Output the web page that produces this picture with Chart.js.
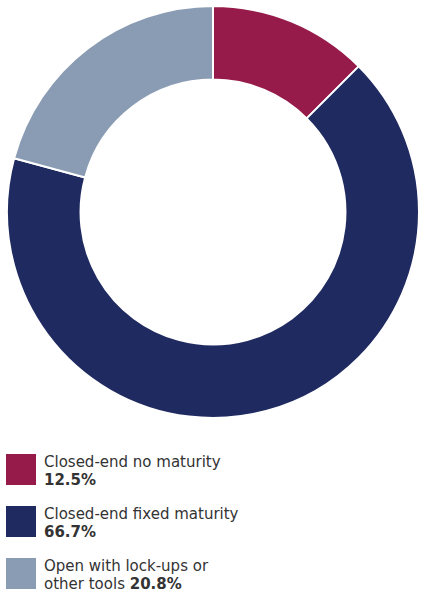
<!DOCTYPE html>
<html>
<head>
<meta charset="utf-8">
<script src="https://cdn.jsdelivr.net/npm/chart.js@4"></script>
<style>
  body { margin: 0; background: #fff; font-family: "DejaVu Sans", sans-serif; color: #333; }
  #wrap { position: relative; width: 421px; height: 424px; }
  #legend { position: absolute; left: 6px; top: 454px; }
  .item { display: flex; align-items: flex-start; height: 52px; }
  .box { width: 30px; height: 31px; margin-right: 8px; flex: none; }
  .txt { font-size: 15px; line-height: 18px; margin-top: -1px; }
  .txt b { font-weight: bold; }
</style>
</head>
<body>
<div id="wrap"><canvas id="donut"></canvas></div>
<div id="legend"></div>
<script>
const labels = ["Closed-end no maturity", "Closed-end fixed maturity", "Open with lock-ups or other tools"];
const legendLines = [
  ["Closed-end no maturity", ""],
  ["Closed-end fixed maturity", ""],
  ["Open with lock-ups or", "other tools "]
];
const values = [12.5, 66.7, 20.8];
const colors = ["#961b4a", "#1f2a60", "#8a9cb4"];

const ctx = document.getElementById("donut").getContext("2d");
const donutChart = new Chart(ctx, {
  type: "doughnut",
  data: {
    labels: labels,
    datasets: [
      {
        data: values,
        backgroundColor: colors,
        borderColor: "#ffffff",
        borderWidth: 2,
      },
    ],
  },
  options: {
    responsive: true,
    maintainAspectRatio: false,
    animation: false,
    cutout: "64.3%",
    layout: { padding: { left: 5, right: 0, top: 5, bottom: 5 } },
    plugins: {
      legend: { display: false },
      tooltip: { enabled: false },
    },
  },
});

// html legend under the chart
const legend = document.getElementById("legend");
values.forEach((v, i) => {
  const item = document.createElement("div");
  item.className = "item";
  const box = document.createElement("div");
  box.className = "box";
  box.style.background = colors[i];
  const txt = document.createElement("div");
  txt.className = "txt";
  const pct = `<b>${v.toFixed(1)}%</b>`;
  txt.innerHTML = `${legendLines[i][0]}<br>${legendLines[i][1]}${pct}`;
  item.appendChild(box);
  item.appendChild(txt);
  legend.appendChild(item);
});
</script>
</body>
</html>
